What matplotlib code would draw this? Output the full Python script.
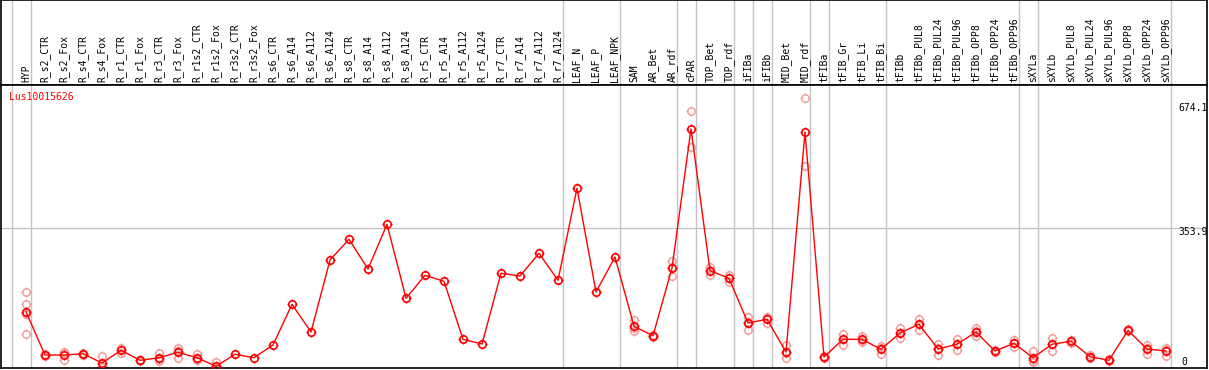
import matplotlib
matplotlib.use("Agg")
import matplotlib.pyplot as plt
from matplotlib.path import Path
import numpy as np

# sample names (one column each)
samples = [
    "HYP",
    "R_s2_CTR", "R_s2_Fox", "R_s4_CTR", "R_s4_Fox", "R_r1_CTR", "R_r1_Fox",
    "R_r3_CTR", "R_r3_Fox", "R_r1s2_CTR", "R_r1s2_Fox", "R_r3s2_CTR", "R_r3s2_Fox",
    "R_s6_CTR", "R_s6_A14", "R_s6_A112", "R_s6_A124",
    "R_s8_CTR", "R_s8_A14", "R_s8_A112", "R_s8_A124",
    "R_r5_CTR", "R_r5_A14", "R_r5_A112", "R_r5_A124",
    "R_r7_CTR", "R_r7_A14", "R_r7_A112", "R_r7_A124",
    "LEAF_N", "LEAF_P", "LEAF_NPK",
    "SAM", "AR_Bet", "AR_rdf", "cPAR", "TOP_Bet", "TOP_rdf",
    "iFIBa", "iFIBb", "MID_Bet", "MID_rdf",
    "tFIBa", "tFIB_Gr", "tFIB_Li", "tFIB_Bi",
    "tFIBb", "tFIBb_PUL8", "tFIBb_PUL24", "tFIBb_PUL96",
    "tFIBb_OPP8", "tFIBb_OPP24", "tFIBb_OPP96",
    "sXYLa", "sXYLb", "sXYLb_PUL8", "sXYLb_PUL24", "sXYLb_PUL96",
    "sXYLb_OPP8", "sXYLb_OPP24", "sXYLb_OPP96",
]

# tissue groups (sizes, in column order) -> separator lines
group_sizes = [1, 28, 3, 3, 1, 2, 1, 1, 2, 1, 3, 7, 1, 7]

means = [
    148.5,
    41.8, 41.8, 45.0, 22.1, 53.4, 28.8, 35.2, 48.5, 35.2, 14.0, 43.6, 35.2,
    66.5, 166.7, 98.5, 275.8, 326.8, 253.7, 363.8, 181.5,
    238.1, 223.4, 80.5, 68.9, 243.1, 236.4, 292.3, 225.8,
    452.4, 197.0, 283.2,
    112.5, 89.4, 256.1, 598.5, 249.5, 230.7,
    120.7, 129.8, 49.2, 591.1,
    36.9, 80.5, 80.5, 55.9,
    96.0, 117.5, 56.6, 68.2, 98.5, 51.7, 70.7,
    35.2, 68.2, 75.6, 37.7, 28.8, 102.7, 56.6, 51.7,
]

# individual replicates (empty where none shown)
reps = [
    [196.3, 166.7, 142.1, 92.8],
    [44, 40], [49.9, 46.5, 28.8], [47, 43], [39.4, 11.5, 15.5], [60, 47], [30, 27],
    [46.8, 27, 32], [59.8, 35.2, 50.5], [43.6, 28.8, 33.2], [25.4, 9.1, 7.5], [], [],
    [], [], [], [], [], [], [], [],
    [], [], [], [], [], [], [], [],
    [], [], [],
    [127.3, 109.1, 101.1], [92, 87, 89.2], [273.4, 237.2, 257.7], [642.8, 554.9],
    [258.6, 238.9, 251], [238.9, 222.4, 230.8],
    [135.4, 104.2, 122.5], [135.4, 120.7, 133.3], [66.5, 33.7, 47.4], [674.1, 508.1],
    [40, 34, 36.7], [92.8, 66.5, 82.2], [89.4, 73.1, 79], [58, 45, 64.7],
    [109.1, 83, 95.9], [130.5, 102.7, 119.3], [68.2, 41.8, 59.8], [81.2, 54.9, 68.5],
    [107.6, 87.9, 100], [54, 49.5], [78, 61.5, 72.6],
    [51.7, 23.9, 30], [84.5, 51.7, 68.4], [79, 72.2], [41.3, 34], [31.5, 26],
    [105, 100.5], [66.5, 45, 58.3], [59.8, 40.1, 55.2],
]

gene = "Lus10015626"
ytick_vals = ["674.1", "353.9", "0"]
grid_val = 353.9

plt.rcParams['font.family'] = ['DejaVu Sans Mono']

W, H = 1209, 370
fig = plt.figure(figsize=(W/100, H/100), dpi=100)

def fy(py):  # pixel row -> figure fraction
    return 1 - py/H

x = np.arange(len(samples))
xl = (-1.316, 62.158)
seps = np.concatenate([[0], np.cumsum(group_sizes)]) - 1 + 0.25
gray = '#c4c4c4'

# header strip with rotated sample names
hax = fig.add_axes([1/W, fy(85), 1206/W, 85/H])
hax.set_xlim(*xl); hax.set_ylim(0, 1)
for s in seps:
    hax.axvline(s, color=gray, lw=1.0)
for i, name in enumerate(samples):
    hax.text(i, 0.03, name, rotation=90, ha='center', va='bottom', fontsize=7)
hax.set_xticks([]); hax.set_yticks([])
for sp in hax.spines.values():
    sp.set_color('black'); sp.set_linewidth(1.2)

# main plot
ax = fig.add_axes([1/W, fy(368.3), 1206/W, (368.3-85)/H])
ax.set_xlim(*xl); ax.set_ylim(9.1, 706.8)
for s in seps:
    ax.axvline(s, color=gray, lw=1.0, zorder=1)
ax.axhline(grid_val, color=gray, lw=1.0, zorder=1)
ax.set_xticks([]); ax.set_yticks([])
for sp in ax.spines.values():
    sp.set_color('black'); sp.set_linewidth(1.2)

# small tick marks around circles
ticks = Path([(0, 0.68), (0, 1), (0, -0.68), (0, -1), (0.68, 0), (1, 0), (-0.68, 0), (-1, 0)],
             [Path.MOVETO, Path.LINETO] * 4)

rx = [i for i, r in enumerate(reps) for _ in r]
ry = [v for r in reps for v in r]
pink = '#f09a9a'
ax.plot(rx, ry, ls='none', marker='o', ms=5.4, mfc='none', mec=pink, mew=1.0, zorder=2)
ax.plot(rx, ry, ls='none', marker=ticks, ms=7.4, mec=pink, mew=0.9, zorder=2)

ax.plot(x, means, color='#ff0000', lw=1.0, zorder=3)
ax.plot(x, means, ls='none', marker='o', ms=5.4, mfc='none', mec='#ff0000', mew=1.2, zorder=4)
ax.plot(x, means, ls='none', marker=ticks, ms=7.4, mec='#ff0000', mew=0.9, zorder=4)

fig.text(9/W, fy(97.3), gene, color='#ff0000', fontsize=7, ha='left', va='center')
for lab, px, py in zip(ytick_vals, [1178, 1178, 1181], [107.7, 232, 361.7]):
    fig.text(px/W, fy(py), lab, fontsize=7, ha='left', va='center')

fig.savefig('out.png', dpi=100)
